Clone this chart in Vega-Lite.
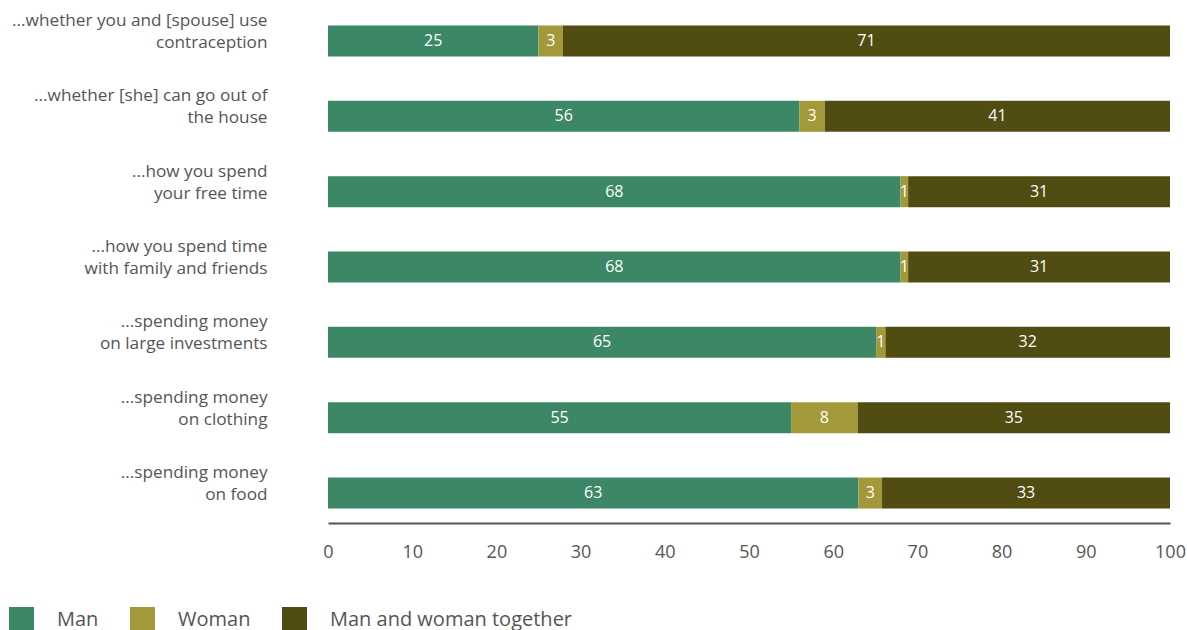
{
  "$schema": "https://vega.github.io/schema/vega-lite/v6.json",
  "width": 842,
  "height": 512,
  "autosize": {"type": "none"},
  "padding": {"left": 328, "top": 11, "right": 17, "bottom": 107},
  "background": "white",
  "config": {
    "view": {"stroke": null},
    "font": "Open Sans",
    "text": {"font": "Open Sans"}
  },
  "data": {
    "values": [
      {"q": "...whether you and [spouse] use|contraception", "qo": 1, "group": "Man", "go": 1, "value": 25, "label": "25"},
      {"q": "...whether you and [spouse] use|contraception", "qo": 1, "group": "Woman", "go": 2, "value": 2.9, "label": "3"},
      {"q": "...whether you and [spouse] use|contraception", "qo": 1, "group": "Man and woman together", "go": 3, "value": 72.1, "label": "71"},
      {"q": "...whether [she] can go out of|the house", "qo": 2, "group": "Man", "go": 1, "value": 56, "label": "56"},
      {"q": "...whether [she] can go out of|the house", "qo": 2, "group": "Woman", "go": 2, "value": 3, "label": "3"},
      {"q": "...whether [she] can go out of|the house", "qo": 2, "group": "Man and woman together", "go": 3, "value": 41, "label": "41"},
      {"q": "...how you spend|your free time", "qo": 3, "group": "Man", "go": 1, "value": 68, "label": "68"},
      {"q": "...how you spend|your free time", "qo": 3, "group": "Woman", "go": 2, "value": 0.9, "label": "1"},
      {"q": "...how you spend|your free time", "qo": 3, "group": "Man and woman together", "go": 3, "value": 31.1, "label": "31"},
      {"q": "...how you spend time|with family and friends", "qo": 4, "group": "Man", "go": 1, "value": 68, "label": "68"},
      {"q": "...how you spend time|with family and friends", "qo": 4, "group": "Woman", "go": 2, "value": 0.9, "label": "1"},
      {"q": "...how you spend time|with family and friends", "qo": 4, "group": "Man and woman together", "go": 3, "value": 31.1, "label": "31"},
      {"q": "...spending money|on large investments", "qo": 5, "group": "Man", "go": 1, "value": 65.1, "label": "65"},
      {"q": "...spending money|on large investments", "qo": 5, "group": "Woman", "go": 2, "value": 1.1, "label": "1"},
      {"q": "...spending money|on large investments", "qo": 5, "group": "Man and woman together", "go": 3, "value": 33.8, "label": "32"},
      {"q": "...spending money|on clothing", "qo": 6, "group": "Man", "go": 1, "value": 55, "label": "55"},
      {"q": "...spending money|on clothing", "qo": 6, "group": "Woman", "go": 2, "value": 7.9, "label": "8"},
      {"q": "...spending money|on clothing", "qo": 6, "group": "Man and woman together", "go": 3, "value": 37.1, "label": "35"},
      {"q": "...spending money|on food", "qo": 7, "group": "Man", "go": 1, "value": 63, "label": "63"},
      {"q": "...spending money|on food", "qo": 7, "group": "Woman", "go": 2, "value": 2.8, "label": "3"},
      {"q": "...spending money|on food", "qo": 7, "group": "Man and woman together", "go": 3, "value": 34.2, "label": "33"}
    ]
  },
  "encoding": {
    "y": {
      "field": "q",
      "type": "nominal",
      "sort": {"field": "qo", "op": "min"},
      "scale": {"paddingInner": 0.5885, "paddingOuter": 0.192},
      "axis": {
        "title": null,
        "domain": false,
        "ticks": false,
        "labelExpr": "split(datum.label, '|')",
        "labelFont": "Open Sans",
        "labelFontSize": 17.2,
        "labelColor": "#555555",
        "labelPadding": 61,
        "labelLineHeight": 22,
        "labelOffset": -20,
        "labelLimit": 400
      }
    }
  },
  "layer": [
    {
      "mark": {"type": "bar"},
      "encoding": {
        "x": {
          "field": "value",
          "type": "quantitative",
          "stack": "zero",
          "scale": {"domain": [0, 100], "nice": false},
          "axis": {
            "title": null,
            "values": [0, 10, 20, 30, 40, 50, 60, 70, 80, 90, 100],
            "grid": false,
            "ticks": false,
            "domainColor": "#555555",
            "domainWidth": 2,
            "labelFont": "Open Sans",
            "labelFontSize": 18,
            "labelColor": "#555555",
            "labelPadding": 20,
            "labelFlush": false
          }
        },
        "color": {
          "field": "group",
          "type": "nominal",
          "scale": {
            "domain": ["Man", "Woman", "Man and woman together"],
            "range": ["#3b8766", "#a3993a", "#514c12"]
          },
          "legend": {
            "title": null,
            "orient": "none",
            "direction": "horizontal",
            "legendX": -319,
            "legendY": 596,
            "symbolType": "square",
            "symbolSize": 625,
            "symbolStrokeWidth": 0,
            "symbolOpacity": 1,
            "labelFont": "Open Sans",
            "labelFontSize": 20,
            "labelColor": "#555555",
            "labelOffset": 23,
            "columnPadding": 31,
            "labelLimit": 400
          }
        },
        "order": {"field": "go"}
      }
    },
    {
      "transform": [
        {"stack": "value", "groupby": ["q"], "sort": [{"field": "go"}], "as": ["x0", "x1"]},
        {"calculate": "(datum.x0 + datum.x1) / 2", "as": "mid"}
      ],
      "mark": {"type": "text", "color": "white", "fontSize": 16, "baseline": "middle", "align": "center", "font": "Open Sans"},
      "encoding": {
        "x": {"field": "mid", "type": "quantitative"},
        "text": {"field": "label"}
      }
    }
  ]
}
